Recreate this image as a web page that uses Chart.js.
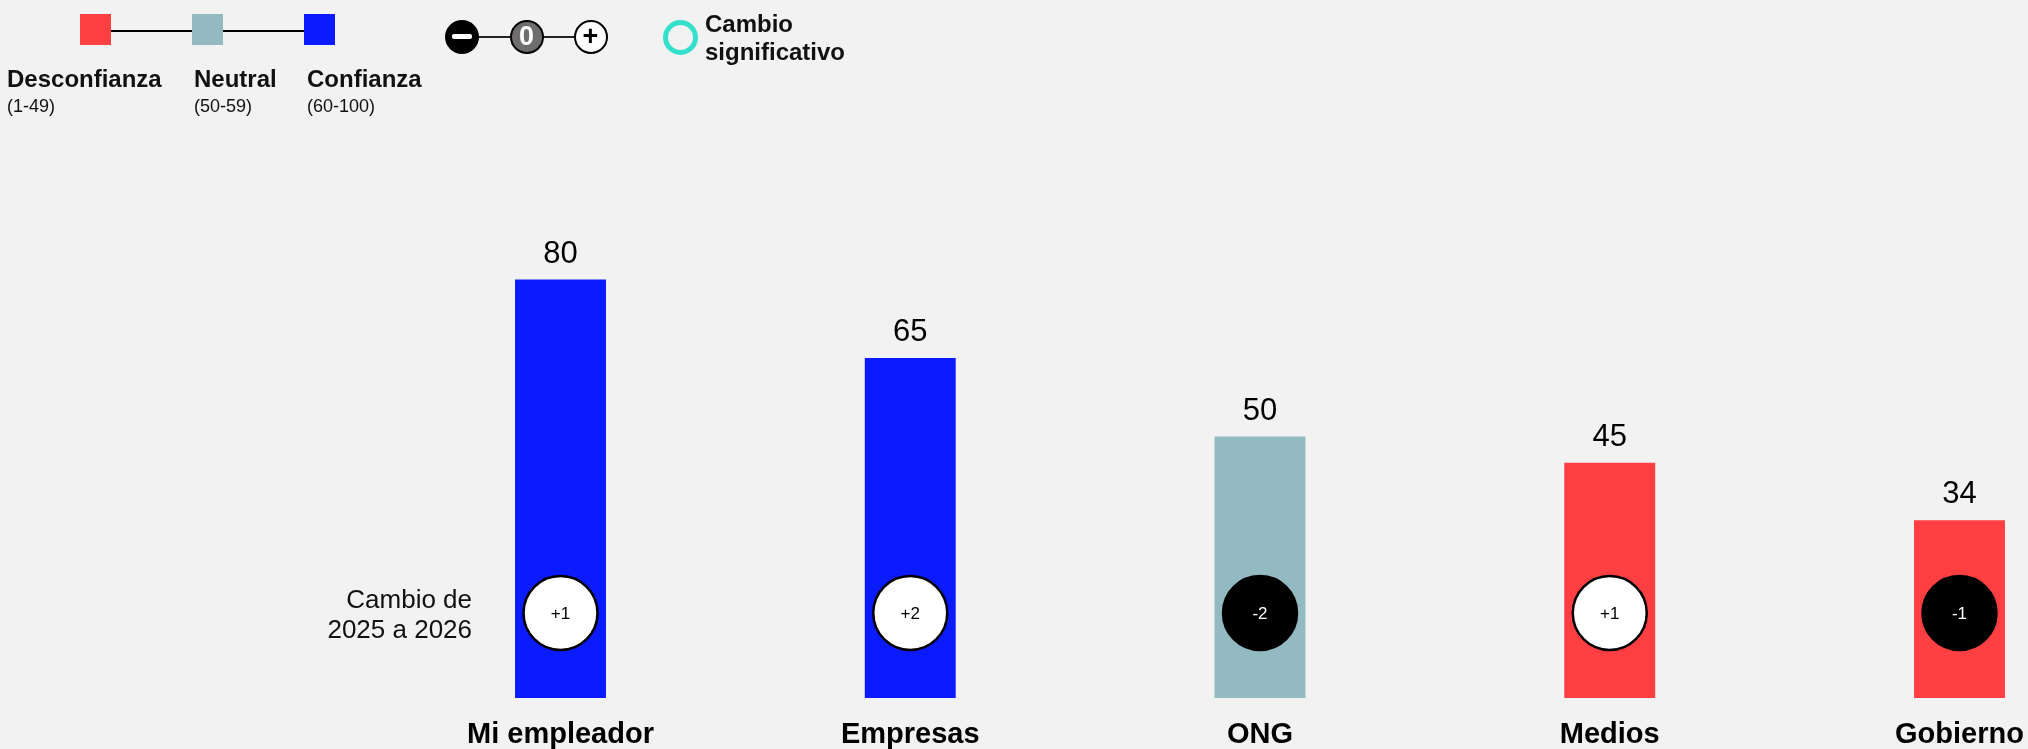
<!DOCTYPE html>
<html><head><meta charset="utf-8">
<script src="https://cdn.jsdelivr.net/npm/chart.js@4/dist/chart.umd.min.js"></script>
<style>
html,body{margin:0;padding:0;background:#f2f2f2;}
body{width:2028px;height:749px;position:relative;overflow:hidden;font-family:"Liberation Sans",Arial,sans-serif;}
#c{position:absolute;left:0;top:0;}
.t{position:absolute;white-space:nowrap;color:#111;line-height:1;}
.b{font-weight:bold;font-size:24px;}
.s{font-size:18px;}
.sq{position:absolute;width:31px;height:31px;top:14px;}
.hl{position:absolute;background:#000;}
.circ{position:absolute;width:34px;height:34px;border-radius:50%;box-sizing:border-box;display:flex;align-items:center;justify-content:center;font-weight:bold;font-size:27px;line-height:1;}
</style>
</head><body>
<canvas id="c" width="2028" height="749"></canvas>

<div class="hl" style="left:100px;top:30px;width:220px;height:1.6px;"></div>
<div class="sq" style="left:80px;background:#ff3f41;"></div>
<div class="sq" style="left:192px;background:#93bac1;"></div>
<div class="sq" style="left:304px;background:#0b1bff;"></div>
<div class="t b" style="left:7px;top:67px;">Desconfianza</div>
<div class="t s" style="left:7px;top:97px;">(1-49)</div>
<div class="t b" style="left:194px;top:67px;">Neutral</div>
<div class="t s" style="left:194px;top:97px;">(50-59)</div>
<div class="t b" style="left:307px;top:67px;">Confianza</div>
<div class="t s" style="left:307px;top:97px;">(60-100)</div>

<div class="hl" style="left:470px;top:35.5px;width:110px;height:2px;background:#222;"></div>
<div class="circ" style="left:445px;top:19.5px;background:#000;"><div style="width:20px;height:5px;background:#fff;border-radius:2px;"></div></div>
<div class="circ" style="left:509.5px;top:19.5px;background:#6f6d6d;border:2px solid #000;color:#fff;">0</div>
<div class="circ" style="left:573.5px;top:19.5px;background:#fff;border:2px solid #000;color:#000;">+</div>
<div style="position:absolute;left:663px;top:19.5px;width:35px;height:35px;box-sizing:border-box;border:5.5px solid #34e0cc;border-radius:50%;"></div>
<div class="t b" style="left:705px;top:11.5px;">Cambio</div>
<div class="t b" style="left:705px;top:40px;">significativo</div>

<script>
const categories = ["Mi empleador", "Empresas", "ONG", "Medios", "Gobierno"];
const trustValues = [80, 65, 50, 45, 34];
const changeValues = [1, 2, -2, 1, -1];
const changeCaption = ["Cambio de", "2025 a 2026"];

const FONT = '"Liberation Sans", Arial, sans-serif';
function barColor(v) {
  if (v >= 60) return '#0b1bff';
  if (v >= 50) return '#93bac1';
  return '#ff3f41';
}

const annotate = {
  id: 'annotate',
  afterDatasetsDraw(chart) {
    const ctx = chart.ctx;
    const meta = chart.getDatasetMeta(0);
    const cy = chart.chartArea.bottom - 85;
    ctx.save();
    meta.data.forEach((bar, i) => {
      ctx.font = '31px ' + FONT;
      ctx.fillStyle = '#000';
      ctx.textAlign = 'center';
      ctx.textBaseline = 'alphabetic';
      ctx.fillText(String(trustValues[i]), bar.x, bar.y - 17);

      const c = changeValues[i];
      ctx.beginPath();
      ctx.arc(bar.x, cy, 37, 0, Math.PI * 2);
      ctx.fillStyle = c > 0 ? '#ffffff' : (c < 0 ? '#000000' : '#6f6d6d');
      ctx.fill();
      ctx.lineWidth = 2.5;
      ctx.strokeStyle = '#000';
      ctx.stroke();
      ctx.font = '17px ' + FONT;
      ctx.fillStyle = c > 0 ? '#000' : '#fff';
      ctx.fillText((c > 0 ? '+' : '') + c, bar.x, cy + 6);
    });
    const first = meta.data[0];
    ctx.font = '26px ' + FONT;
    ctx.fillStyle = '#111';
    ctx.textAlign = 'right';
    const xr = first.x - first.width / 2 - 43;
    ctx.fillText(changeCaption[0], xr, cy - 5);
    ctx.fillText(changeCaption[1], xr, cy + 25);
    ctx.restore();
  }
};

new Chart(document.getElementById('c'), {
  type: 'bar',
  data: {
    labels: categories,
    datasets: [{
      data: trustValues,
      backgroundColor: (ctx) => barColor(ctx.raw),
      borderWidth: 0,
      categoryPercentage: 1,
      barPercentage: 0.26,
      clip: false
    }]
  },
  options: {
    responsive: false,
    animation: false,
    devicePixelRatio: 1,
    layout: { padding: { left: 560.5, right: 68.5, top: 175, bottom: 0 } },
    plugins: { legend: { display: false }, tooltip: { enabled: false } },
    scales: {
      x: {
        offset: false,
        grid: { display: true, drawOnChartArea: false, drawTicks: true, tickLength: 22, color: 'rgba(0,0,0,0)' },
        border: { display: false },
        ticks: {
          padding: 0, color: '#000', maxRotation: 0, autoSkip: false,
          font: { family: FONT, size: 29, weight: 'bold', lineHeight: 1 }
        },
        afterFit(scale) { scale.height = 51; }
      },
      y: { display: false, min: 0, max: 100 }
    }
  },
  plugins: [annotate]
});
</script>
</body></html>
